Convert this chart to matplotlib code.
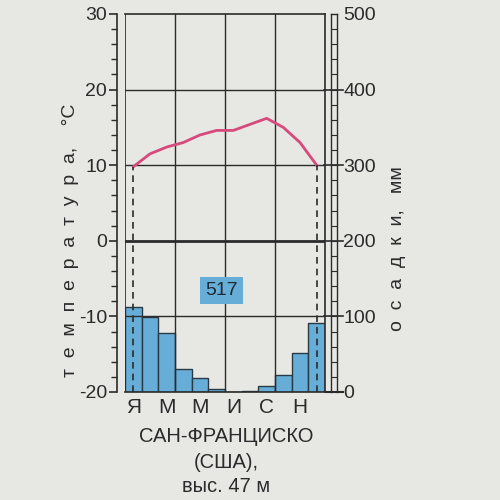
import numpy as np
import matplotlib.pyplot as plt

plt.rcParams['font.family'] = ['Liberation Sans', 'DejaVu Sans']
plt.rcParams['axes.unicode_minus'] = False

months = np.arange(12) + 0.5
month_labels = ['Я', '', 'М', '', 'М', '', 'И', '', 'С', '', 'Н', '']
temp = [9.8, 11.5, 12.4, 13.0, 14.0, 14.6, 14.6, 15.4, 16.2, 15.0, 13.0, 10.0]
precip = [113, 99, 78, 30, 18, 4, 0, 1, 8, 23, 52, 91]
total = 517
place = 'САН-ФРАНЦИСКО\n(США),\nвыс. 47 м'

paper = '#e7e7e4'
ink = '#2b2b2b'
bar_col = '#66aed8'
line_col = '#d64a7c'

fig = plt.figure(figsize=(5, 5), dpi=100)
fig.patch.set_facecolor(paper)

# main box: x 125..325 px, y 14..392 px
ax = fig.add_axes([0.25, 0.216, 0.40, 0.756])
ax.set_xlim(0, 12)
ax.set_ylim(-20, 30)

# precipitation on twin axis 0..500
axp = ax.twinx()
axp.set_ylim(0, 500)
axp.bar(months, precip, width=1.0, color=bar_col, edgecolor='#2a3a45', lw=1.0, zorder=2)
axp.set_yticks([])
for s in axp.spines.values():
    s.set_visible(False)

# grid
for v in [-10, 10, 20]:
    ax.axhline(v, color=ink, lw=1.0, zorder=1)
ax.axhline(0, color=ink, lw=2.0, zorder=1)
for m in [3, 6, 9]:
    ax.axvline(m, color=ink, lw=1.0, zorder=1)
ax.axvline(0, color=ink, lw=1.2, zorder=3)

ax.set_zorder(axp.get_zorder() + 1)
ax.patch.set_visible(False)
axp.patch.set_facecolor(paper)

# temperature curve
ax.plot(months, temp, color=line_col, lw=2.0, zorder=4)
ax.plot([months[0], months[0]], [-20, temp[0]], color=ink, lw=1.2, ls=(0, (4, 3)), zorder=4)
ax.plot([months[-1], months[-1]], [-20, temp[-1]], color=ink, lw=1.2, ls=(0, (4, 3)), zorder=4)

ax.text(5.8, -6.6, str(total), ha='center', va='center', fontsize=14, color='#1d2a33',
        bbox=dict(boxstyle='square,pad=0.25', fc=bar_col, ec='none'), zorder=5)

# spines and ticks
ax.spines['left'].set_position(('outward', 6))
for s in ['top', 'right', 'bottom', 'left']:
    ax.spines[s].set_linewidth(1.2)
    ax.spines[s].set_color(ink)
ax.set_yticks([-20, -10, 0, 10, 20, 30])
ax.set_yticks(np.arange(-20, 31, 2), minor=True)
ax.tick_params(axis='y', which='major', length=6, width=1.2, colors=ink, labelsize=14, pad=1)
ax.tick_params(axis='y', which='minor', length=4, width=1.0, colors=ink)
ax.set_xticks(months)
ax.set_xticklabels(month_labels)
ax.tick_params(axis='x', length=0, labelsize=15, colors=ink, pad=4)

ax.set_ylabel('т  е  м  п  е  р  а  т  у  р  а,    °С', fontsize=14, color=ink)
ax.yaxis.set_label_coords(-0.23, 0.4)

# precipitation ladder scale
lad = fig.add_axes([0.662, 0.216, 0.011, 0.756])
lad.set_xlim(0, 1)
lad.set_ylim(0, 500)
lad.patch.set_visible(False)
lad.set_xticks([])
lad.set_yticks([0, 100, 200, 300, 400, 500])
lad.yaxis.tick_right()
lad.tick_params(axis='y', length=0, labelsize=14, colors=ink, pad=5)
for s in ['top', 'bottom']:
    lad.spines[s].set_visible(False)
for s in ['left', 'right']:
    lad.spines[s].set_linewidth(1.0)
    lad.spines[s].set_color(ink)
for v in range(20, 500, 20):
    lad.axhline(v, color=ink, lw=0.8)
for v in [100, 200, 300, 400]:
    lad.plot([-1.2, 2.2], [v, v], color=ink, lw=1.2, clip_on=False)
lad.plot([-1.0, 2.2], [0, 0], color=ink, lw=1.5, clip_on=False)
lad.plot([0, 1], [500, 500], color=ink, lw=1.0, clip_on=False)
lad.yaxis.set_label_position('right')
lad.set_ylabel('о  с  а  д  к  и,   мм', fontsize=14, color=ink)
lad.yaxis.set_label_coords(10.5, 0.38)

fig.text(0.452, 0.145, place, ha='center', va='top', fontsize=14.5, color=ink,
         linespacing=1.4)

fig.savefig('out.png', dpi=100, facecolor=paper)
